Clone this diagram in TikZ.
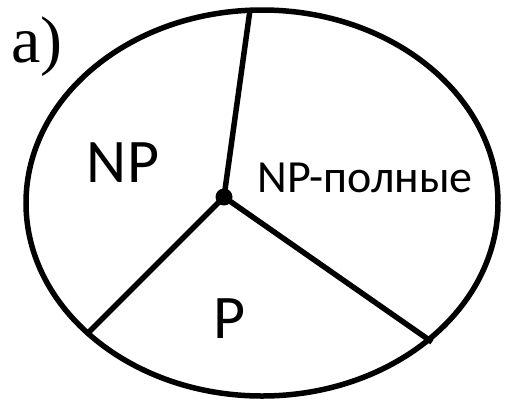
\documentclass[tikz,border=0pt]{standalone}
\usepackage{fontspec}
\setmainfont{Carlito}
\newfontfamily\serifx{Liberation Serif}
\begin{document}
\begin{tikzpicture}[x=1pt,y=-1pt,
  edge/.style={line width=5.5pt},
  lbl/.style={inner sep=0pt, anchor=base}]
\useasboundingbox (0,0) rectangle (506,405);
\draw[line width=5.5pt] (262,203) ellipse [x radius=236, y radius=193];
\coordinate (top) at (250,10);
\coordinate (bl) at (88,333);
\coordinate (br) at (432,342);
\node[circle, fill=black, minimum size=17pt, inner sep=0pt] (c) at (224,197) {};
\draw[edge] (c.center) -- (top);
\draw[edge] (c.center) -- (bl);
\draw[edge] (c.center) -- (br);
\node[lbl, anchor=base west] (a) at (11,62) {\serifx\fontsize{66}{70}\selectfont a)};
\node[lbl] (np) at (123,182) {\fontsize{62}{66}\selectfont NP};
\node[lbl] (npc) at (365,192) {\fontsize{46}{50}\selectfont NP-полные};
\node[lbl] (p) at (230,338) {\fontsize{62}{66}\selectfont P};
\end{tikzpicture}
\end{document}
